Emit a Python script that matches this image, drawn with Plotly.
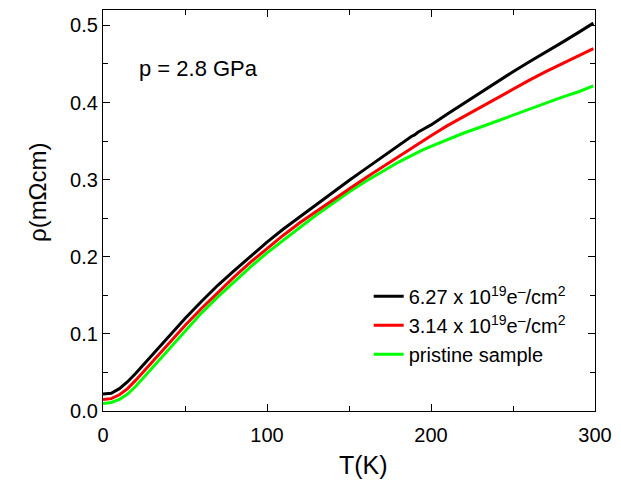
import plotly.graph_objects as go

# Temperature grid (K)
T_black = [0, 5, 10, 15, 20, 25, 30, 40, 50, 60, 70, 80, 90, 100, 110, 120, 130, 140, 150,
           160, 170, 180, 185, 188, 190, 192, 195, 200, 210, 220, 230, 240, 250, 260, 270,
           280, 290, 299]
rho_black = [0.022, 0.023, 0.029, 0.038, 0.049, 0.061, 0.073, 0.097, 0.120, 0.142, 0.163,
             0.182, 0.201, 0.219, 0.236, 0.252, 0.267, 0.283, 0.299, 0.314, 0.329, 0.344,
             0.352, 0.356, 0.358, 0.3615, 0.365, 0.371, 0.385, 0.399, 0.412, 0.426, 0.440,
             0.453, 0.465, 0.478, 0.491, 0.503]

T_red = [0, 5, 10, 15, 20, 25, 30, 40, 50, 60, 70, 80, 90, 100, 110, 120, 130, 140, 150,
         160, 170, 180, 190, 195, 200, 210, 220, 230, 240, 250, 260, 270, 280, 290, 299]
rho_red = [0.0148, 0.016, 0.021, 0.029, 0.040, 0.052, 0.064, 0.088, 0.111, 0.133, 0.154,
           0.174, 0.193, 0.211, 0.228, 0.244, 0.259, 0.274, 0.288, 0.302, 0.316, 0.330,
           0.344, 0.351, 0.357, 0.370, 0.382, 0.394, 0.406, 0.418, 0.429, 0.440, 0.450,
           0.460, 0.470]

T_green = [0, 5, 10, 15, 20, 25, 30, 40, 50, 60, 70, 80, 90, 100, 110, 120, 130, 140, 150,
           160, 170, 180, 185, 190, 195, 200, 210, 220, 230, 240, 250, 260, 270, 280, 290, 299]
rho_green = [0.0097, 0.011, 0.015, 0.022, 0.032, 0.044, 0.056, 0.080, 0.104, 0.127, 0.148,
             0.168, 0.187, 0.205, 0.222, 0.238, 0.254, 0.269, 0.284, 0.2975, 0.3105, 0.3225,
             0.328, 0.3335, 0.3385, 0.343, 0.352, 0.3605, 0.368, 0.376, 0.384, 0.392, 0.399,
             0.407, 0.414, 0.4215]

labels = ["6.27 x 10<sup>19</sup>e<sup>–</sup>/cm<sup>2</sup>",
          "3.14 x 10<sup>19</sup>e<sup>–</sup>/cm<sup>2</sup>",
          "pristine sample"]
x_ticks = [0, 100, 200, 300]
y_ticks = [0.0, 0.1, 0.2, 0.3, 0.4, 0.5]

FONT = "Liberation Sans, Arial, sans-serif"

fig = go.Figure()
fig.add_trace(go.Scatter(x=T_green, y=rho_green, mode="lines", name=labels[2],
                         line=dict(color="#00ff00", width=3)))
fig.add_trace(go.Scatter(x=T_red, y=rho_red, mode="lines", name=labels[1],
                         line=dict(color="#ff0000", width=3)))
fig.add_trace(go.Scatter(x=T_black, y=rho_black, mode="lines", name=labels[0],
                         line=dict(color="#000000", width=3)))

axis_common = dict(showline=True, linecolor="black", linewidth=1.3, mirror="allticks",
                   ticks="inside", ticklen=7, tickwidth=1.3, tickcolor="black",
                   showgrid=False, zeroline=False,
                   tickfont=dict(family=FONT, size=20, color="black"))

fig.update_xaxes(range=[0, 300], tickvals=x_ticks, ticktext=[str(v) for v in x_ticks],
                 ticklabelstandoff=6,
                 minor=dict(dtick=50, tick0=0, ticks="inside", ticklen=5, tickwidth=1.3,
                            tickcolor="black"),
                 **axis_common)
fig.update_yaxes(range=[0, 0.52], tickvals=y_ticks, ticktext=[f"{v:.1f}" for v in y_ticks],
                 minor=dict(dtick=0.05, tick0=0, ticks="inside", ticklen=5, tickwidth=1.3,
                            tickcolor="black"),
                 **axis_common)

fig.add_annotation(text="T(K)", xref="paper", yref="paper", x=0.529, y=-0.135,
                   xanchor="center", yanchor="middle", showarrow=False,
                   font=dict(family=FONT, size=25, color="black"))
fig.add_annotation(text="ρ(mΩcm)", xref="paper", yref="paper", x=-0.133, y=0.545,
                   xanchor="center", yanchor="middle", showarrow=False, textangle=-90,
                   font=dict(family=FONT, size=24, color="black"))
fig.add_annotation(text="p = 2.8 GPa", xref="paper", yref="paper", x=0.07, y=0.853,
                   xanchor="left", yanchor="middle", showarrow=False,
                   font=dict(family=FONT, size=22, color="black"))

fig.update_layout(
    width=621, height=483,
    margin=dict(l=103, r=18, t=9, b=71.5),
    paper_bgcolor="white", plot_bgcolor="white",
    showlegend=True,
    legend=dict(x=0.54, y=0.335, xanchor="left", yanchor="top",
                traceorder="reversed", bgcolor="rgba(0,0,0,0)",
                font=dict(family=FONT, size=20, color="black"),
                tracegroupgap=0, itemwidth=30),
)

fig.write_html("out.html")
